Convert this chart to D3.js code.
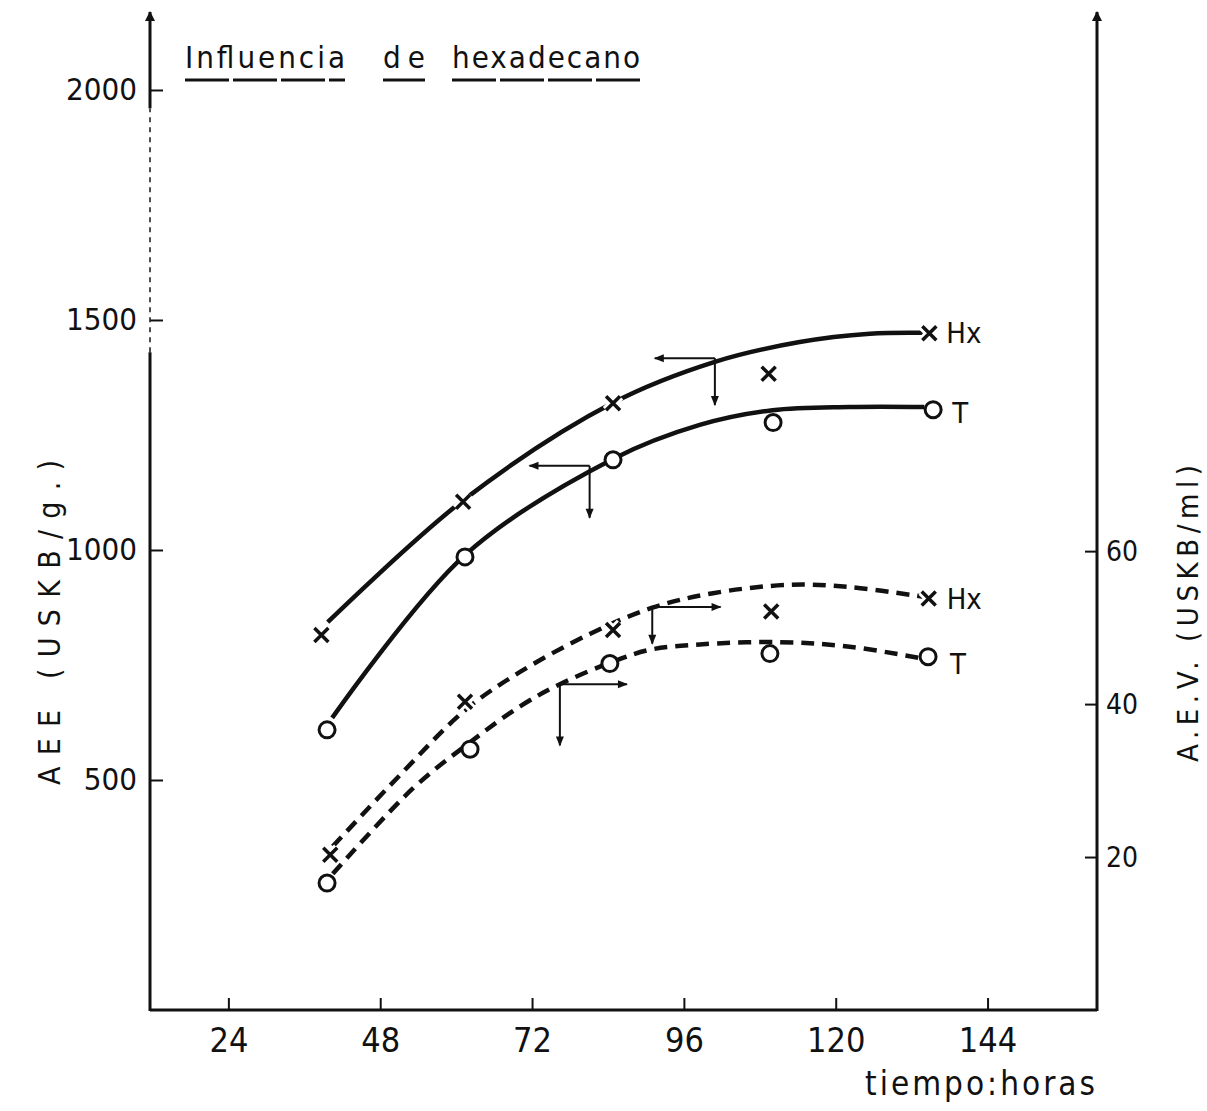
<!DOCTYPE html>
<html><head><meta charset="utf-8">
<script src="https://cdn.jsdelivr.net/npm/d3@7"></script>
<style>
body{margin:0;background:#fff}
svg{display:block;background:#fff}
text{fill:#111}
</style>
</head><body>
<svg id="c" width="1207" height="1111"></svg>
<script>
// ---------- data ----------
const hourTicks = [24, 48, 72, 96, 120, 144];
const aeeTicks = [500, 1000, 1500, 2000];
const aevTicks = [20, 40, 60];

// measured points: AEE (USKB/g.) – left axis
const hxAEE_t = [38.7, 61.1, 84.8, 109.4, 134.8];
const hxAEE   = [815, 1105, 1319, 1383, 1471];
const tAEE_t  = [39.6, 61.4, 84.8, 110.1, 135.4];
const tAEE    = [609, 985, 1196, 1277, 1305];
// measured points: A.E.V. (USKB/ml) – right axis
const hxAEV_t = [40.1, 61.4, 84.8, 109.8, 134.7];
const hxAEV   = [20.3, 40.3, 49.7, 52.1, 53.8];
const tAEV_t  = [39.6, 62.2, 84.3, 109.6, 134.6];
const tAEV    = [16.6, 34.1, 45.3, 46.6, 46.2];

// hand-drawn fitted curves (as traced on the figure)
const hxAEEfit_t = [39.7, 61.2, 84.8, 100.9, 114.3, 125.4, 134.0];
const hxAEEfit   = [843, 1109, 1320, 1409, 1452, 1470, 1472];
const tAEEfit_t  = [40.4, 61.4, 84.8, 98.5, 110.0, 122.2, 134.0];
const tAEEfit    = [635, 989, 1198, 1272, 1304, 1311, 1311];
const hxAEVfit_t = [40.5, 51.1, 61.4, 70.1, 81.2, 91.0, 100.6, 112.8, 122.2, 134.1];
const hxAEVfit   = [21.4, 30.7, 39.2, 44.2, 49.2, 52.6, 54.5, 55.6, 55.3, 54.0];
const tAEVfit_t  = [40.5, 53.2, 62.2, 70.1, 76.4, 84.3, 90.6, 98.5, 111.2, 122.2, 134.1];
const tAEVfit    = [17.8, 29.0, 35.0, 39.7, 42.6, 45.4, 47.1, 47.8, 48.1, 47.5, 45.9];

// axis-indicator arrows: corner (t, v), horizontal end t, vertical end v
const arrowAxis   = ["left", "left", "right", "right"];
const arrowT      = [100.9, 81.1, 91.0, 76.4];
const arrowV      = [1417, 1183, 52.7, 42.6];
const arrowHEnd   = [91.4, 71.6, 101.8, 87.0];
const arrowVEnd   = [1315, 1070, 47.9, 34.6];

const seriesLabels = ["Hx", "T", "Hx", "T"];

// ---------- layout ----------
const X0 = 150, X1 = 1097, Y0 = 1010, YT = 15;
const svg = d3.select("#c");
const cond = "'DejaVu Sans Condensed','DejaVu Sans',sans-serif";
const narrow = "'Liberation Sans Narrow','DejaVu Sans Condensed',sans-serif";

const x = d3.scaleLinear().domain([11.61, 161.3]).range([X0, X1]);
const yL = d3.scaleLinear().domain([0, 2163]).range([Y0, YT]);
const yR = d3.scaleLinear().domain([0, 130.1]).range([Y0, YT]);

// arrow markers
const defs = svg.append("defs");
defs.append("marker").attr("id", "ah").attr("viewBox", "0 0 10 10")
  .attr("refX", 9).attr("refY", 5).attr("markerWidth", 12).attr("markerHeight", 10)
  .attr("markerUnits", "userSpaceOnUse").attr("orient", "auto")
  .append("path").attr("d", "M0,1 L10,5 L0,9 Z").attr("fill", "#111");
defs.append("marker").attr("id", "axh").attr("viewBox", "0 0 10 10")
  .attr("refX", 9).attr("refY", 5).attr("markerWidth", 14).attr("markerHeight", 10)
  .attr("markerUnits", "userSpaceOnUse").attr("orient", "auto")
  .append("path").attr("d", "M0,0 L10,5 L0,10 Z").attr("fill", "#111");

// ---------- axes ----------
const fmt = d3.format("d");
const gB = svg.append("g").attr("transform", `translate(0,${Y0})`)
  .call(d3.axisBottom(x).tickValues(hourTicks).tickFormat(fmt).tickSize(-12).tickSizeOuter(0).tickPadding(18));
const gL = svg.append("g").attr("transform", `translate(${X0},0)`)
  .call(d3.axisLeft(yL).tickValues(aeeTicks).tickFormat(fmt).tickSize(-13).tickSizeOuter(0).tickPadding(13));
const gR = svg.append("g").attr("transform", `translate(${X1},0)`)
  .call(d3.axisRight(yR).tickValues(aevTicks).tickFormat(fmt).tickSize(-12).tickSizeOuter(0).tickPadding(9));

[gB, gL, gR].forEach(g => {
  g.select(".domain").remove();
  g.selectAll(".tick line").attr("stroke", "#111").attr("stroke-width", 2);
  g.selectAll(".tick text").attr("fill", "#111");
});
gB.selectAll(".tick text").attr("font-family", narrow).attr("font-size", 34);
gL.selectAll(".tick text").attr("font-family", cond).attr("font-size", 31);
gR.selectAll(".tick text").attr("font-family", cond).attr("font-size", 28);

// axis lines
svg.append("line").attr("x1", X0).attr("x2", X1).attr("y1", Y0).attr("y2", Y0)
  .attr("stroke", "#111").attr("stroke-width", 3);
svg.append("line").attr("x1", X1).attr("x2", X1).attr("y1", Y0 + 1).attr("y2", YT - 3)
  .attr("stroke", "#111").attr("stroke-width", 3).attr("marker-end", "url(#axh)");
svg.append("line").attr("x1", X0).attr("x2", X0).attr("y1", Y0 + 1).attr("y2", yL(1430))
  .attr("stroke", "#111").attr("stroke-width", 3);
svg.append("line").attr("x1", X0).attr("x2", X0).attr("y1", yL(1430)).attr("y2", yL(1960))
  .attr("stroke", "#222").attr("stroke-width", 1.6).attr("stroke-dasharray", "5,5");
svg.append("line").attr("x1", X0).attr("x2", X0).attr("y1", yL(1960)).attr("y2", YT - 3)
  .attr("stroke", "#111").attr("stroke-width", 3).attr("marker-end", "url(#axh)");

// ---------- title ----------
const titleWords = ["Influencia", "de", "hexadecano"];
const titleX = [185, 383, 452];
const titleW = [160, 42, 188];
titleWords.forEach((w, i) => {
  svg.append("text").attr("x", titleX[i]).attr("y", 68)
    .attr("font-family", cond).attr("font-size", 31)
    .attr("textLength", titleW[i]).attr("lengthAdjust", "spacing").text(w);
  svg.append("line").attr("x1", titleX[i]).attr("x2", titleX[i] + titleW[i])
    .attr("y1", 80).attr("y2", 80).attr("stroke", "#111").attr("stroke-width", 3)
    .attr("stroke-dasharray", "44,4");
});

// axis titles
svg.append("text").attr("transform", "translate(60,785) rotate(-90)")
  .attr("font-family", cond).attr("font-size", 30)
  .attr("textLength", 325).attr("lengthAdjust", "spacing").text("AEE (USKB/g.)");
svg.append("text").attr("transform", "translate(1198,762) rotate(-90)")
  .attr("font-family", cond).attr("font-size", 29)
  .attr("textLength", 297).attr("lengthAdjust", "spacing").text("A.E.V. (USKB/ml)");
svg.append("text").attr("x", 865).attr("y", 1095)
  .attr("font-family", narrow).attr("font-size", 33)
  .attr("textLength", 230).attr("lengthAdjust", "spacing").text("tiempo:horas");

// ---------- curves ----------
function curve(ts, vs, y, dashed) {
  const pts = ts.map((t, i) => [x(t), y(vs[i])]);
  svg.append("path").attr("d", d3.line().curve(d3.curveCatmullRom.alpha(0.5))(pts))
    .attr("fill", "none").attr("stroke", "#111").attr("stroke-width", 4.5)
    .attr("stroke-linecap", "butt")
    .attr("stroke-dasharray", dashed ? "13,8" : null);
}
curve(hxAEEfit_t, hxAEEfit, yL, false);
curve(tAEEfit_t, tAEEfit, yL, false);
curve(hxAEVfit_t, hxAEVfit, yR, true);
curve(tAEVfit_t, tAEVfit, yR, true);

// ---------- arrows ----------
arrowAxis.forEach((a, i) => {
  const y = a === "left" ? yL : yR;
  const cx = x(arrowT[i]), cy = y(arrowV[i]);
  svg.append("line").attr("x1", cx).attr("y1", cy).attr("x2", x(arrowHEnd[i])).attr("y2", cy)
    .attr("stroke", "#111").attr("stroke-width", 2).attr("marker-end", "url(#ah)");
  svg.append("line").attr("x1", cx).attr("y1", cy).attr("x2", cx).attr("y2", y(arrowVEnd[i]))
    .attr("stroke", "#111").attr("stroke-width", 2).attr("marker-end", "url(#ah)");
});

// ---------- markers ----------
function crosses(ts, vs, y) {
  ts.forEach((t, i) => {
    const px = x(t), py = y(vs[i]), s = 7;
    const d = `M${px - s},${py - s}L${px + s},${py + s}M${px - s},${py + s}L${px + s},${py - s}`;
    svg.append("path").attr("d", d).attr("stroke", "#fff").attr("stroke-width", 9);
    svg.append("path").attr("d", d).attr("stroke", "#111").attr("stroke-width", 3.5);
  });
}
function circles(ts, vs, y) {
  ts.forEach((t, i) => {
    svg.append("circle").attr("cx", x(t)).attr("cy", y(vs[i])).attr("r", 8)
      .attr("fill", "#fff").attr("stroke", "#111").attr("stroke-width", 3);
  });
}
crosses(hxAEE_t, hxAEE, yL);
circles(tAEE_t, tAEE, yL);
crosses(hxAEV_t, hxAEV, yR);
circles(tAEV_t, tAEV, yR);

// series labels next to the last point
const lastPts = [
  [hxAEE_t[4], hxAEE[4], yL, 17, 10],
  [tAEE_t[4], tAEE[4], yL, 19, 13],
  [hxAEV_t[4], hxAEV[4], yR, 18, 10],
  [tAEV_t[4], tAEV[4], yR, 22, 17]
];
lastPts.forEach((p, i) => {
  svg.append("text").attr("x", x(p[0]) + p[3]).attr("y", p[2](p[1]) + p[4])
    .attr("font-family", narrow).attr("font-size", 29).text(seriesLabels[i]);
});
</script>
</body></html>
